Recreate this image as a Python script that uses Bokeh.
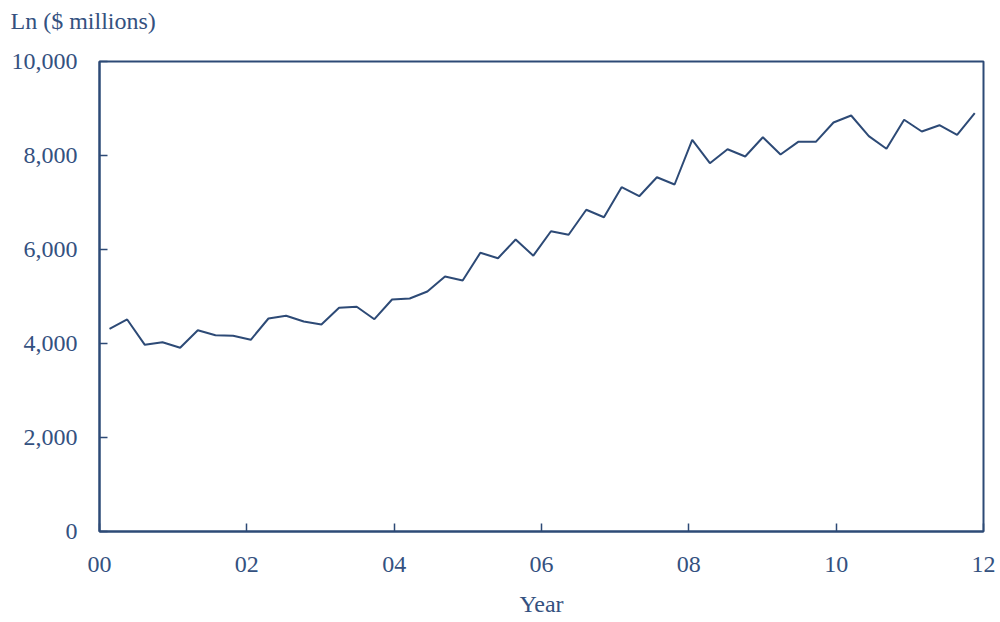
import numpy as np
from bokeh.plotting import figure
from bokeh.models import Range1d, FixedTicker, NumeralTickFormatter, Title
from bokeh.embed import file_html
from bokeh.resources import INLINE

# ---- data ----
loans = [4313, 4511, 3972, 4028, 3909, 4283, 4177, 4164, 4079, 4532,
         4589, 4468, 4404, 4760, 4781, 4517, 4936, 4957, 5106, 5426,
         5340, 5930, 5815, 6213, 5868, 6389, 6313, 6845, 6687, 7326,
         7134, 7538, 7383, 8334, 7836, 8134, 7979, 8389, 8021, 8291,
         8291, 8702, 8851, 8411, 8143, 8760, 8511, 8645, 8440, 8900]
period_index = np.arange(len(loans))
first_period = 0.136          # years after 2000 of first observation
period_len = 0.2397           # years per observation
years = first_period + period_index * period_len

x_ticks = [0, 2, 4, 6, 8, 10, 12]
x_tick_labels = ["00", "02", "04", "06", "08", "10", "12"]
y_ticks = [0, 2000, 4000, 6000, 8000, 10000]

TEXT = "#34517f"
LINE = "#2d4a76"
FONT = "Liberation Serif"

p = figure(width=1000, height=622, output_backend="svg", toolbar_location=None,
           x_range=Range1d(0, 12), y_range=Range1d(0, 10000),
           min_border_left=99, min_border_right=17,
           min_border_top=61, min_border_bottom=91)

# second (blank) line lifts the title toward the top of the canvas
p.title = Title(text="Ln ($ millions)\n\u00a0", align="left", offset=-89,
                vertical_align="top",
                text_font=FONT, text_font_size="24px", text_color=TEXT,
                text_font_style="normal", standoff=0)

p.line(years, loans, line_color=LINE, line_width=2)

p.xgrid.visible = False
p.ygrid.visible = False
p.outline_line_color = LINE
p.outline_line_width = 2
p.outline_line_alpha = 1

for ax in (p.xaxis[0], p.yaxis[0]):
    ax.axis_line_color = LINE
    ax.axis_line_width = 2
    ax.major_tick_line_color = LINE
    ax.major_tick_line_width = 1.5
    ax.major_tick_in = 8
    ax.major_tick_out = 0
    ax.minor_tick_line_color = None
    ax.major_label_text_font = FONT
    ax.major_label_text_font_size = "24px"
    ax.major_label_text_color = TEXT

p.xaxis.ticker = FixedTicker(ticks=x_ticks)
p.xaxis.major_label_overrides = {t: l for t, l in zip(x_ticks, x_tick_labels)}
p.xaxis.major_label_standoff = 25
p.xaxis.axis_label = "Year"
p.xaxis.axis_label_text_font = FONT
p.xaxis.axis_label_text_font_size = "24px"
p.xaxis.axis_label_text_font_style = "normal"
p.xaxis.axis_label_text_color = TEXT
p.xaxis.axis_label_standoff = 16
p.yaxis.ticker = FixedTicker(ticks=y_ticks)
p.yaxis.formatter = NumeralTickFormatter(format="0,0")
p.yaxis.major_label_standoff = 22

open("out.html", "w").write(file_html(p, INLINE))
